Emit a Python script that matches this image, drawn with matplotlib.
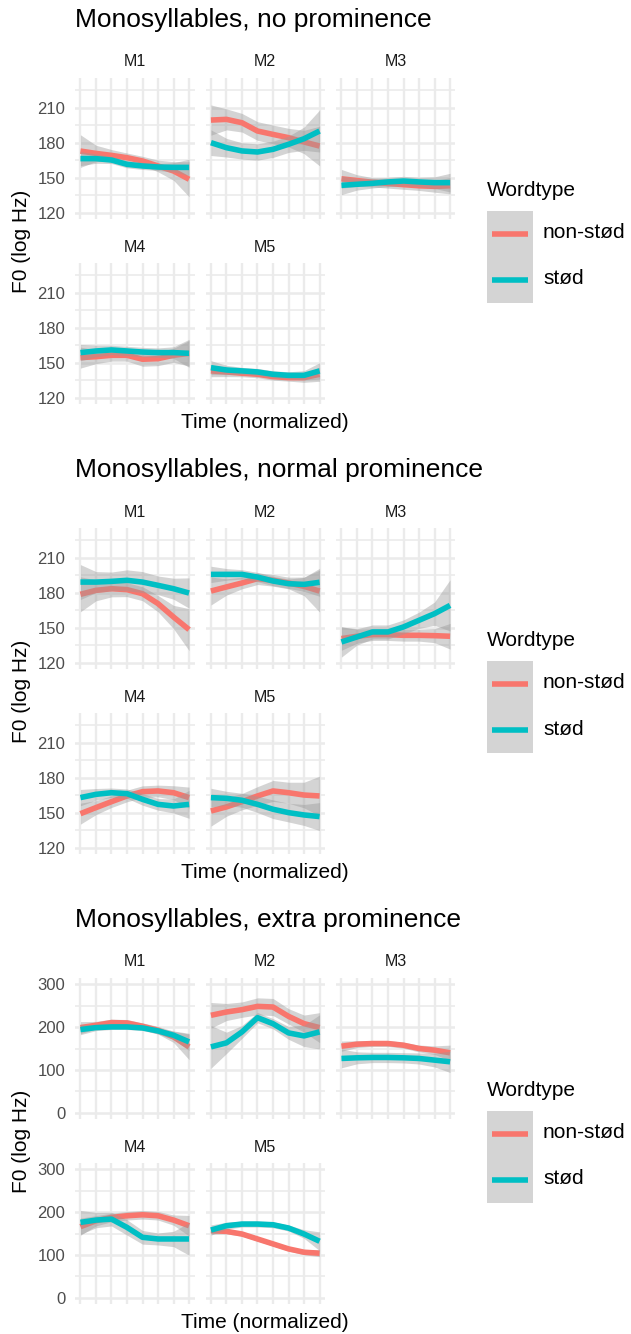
import numpy as np
import matplotlib.pyplot as plt

plt.rcParams['font.family'] = ['Liberation Sans', 'DejaVu Sans']

# =============================================================================
# DATA (smoothed F0 contours per speaker)
# =============================================================================
time = [1, 2, 3, 4, 5, 6, 7, 8]
speakers = ['M1', 'M2', 'M3', 'M4', 'M5']
wordtypes = ['non-stød', 'stød']
titles = ['Monosyllables, no prominence',
          'Monosyllables, normal prominence',
          'Monosyllables, extra prominence']

# no prominence
no_nonstod = {
    'M1': [172.8, 170.8, 169.1, 167.1, 164.3, 160.0, 155.7, 148.6],
    'M2': [199.4, 200.0, 197.1, 190.0, 187.1, 184.3, 180.6, 177.1],
    'M3': [149.0, 147.5, 146.0, 145.0, 144.0, 143.0, 142.5, 143.0],
    'M4': [154.3, 155.1, 156.3, 156.3, 152.9, 153.4, 156.3, 158.0],
    'M5': [142.9, 142.0, 140.9, 140.0, 138.0, 137.1, 137.1, 140.0],
}
no_stod = {
    'M1': [166.3, 166.3, 165.1, 161.4, 160.0, 159.1, 158.8, 158.8],
    'M2': [180.0, 175.7, 172.9, 172.0, 174.3, 178.6, 183.4, 190.0],
    'M3': [143.4, 144.3, 145.1, 146.3, 147.1, 146.3, 145.7, 145.7],
    'M4': [158.6, 160.0, 160.9, 160.0, 159.1, 158.6, 158.6, 158.0],
    'M5': [145.7, 143.7, 142.9, 142.0, 140.0, 139.1, 139.1, 142.9],
}
no_nonstod_ci = {
    'M1': [14, 7, 5, 4, 4, 5, 8, 15],
    'M2': [13, 9, 8, 8, 8, 8, 10, 17],
    'M3': [8, 5, 4, 4, 4, 4, 5, 7],
    'M4': [9, 6, 5, 5, 6, 6, 6, 11],
    'M5': [5, 4, 3, 3, 3, 3, 4, 6],
}
no_stod_ci = {
    'M1': [6, 4, 3, 3, 3, 3, 4, 7],
    'M2': [11, 8, 7, 7, 7, 7, 10, 18],
    'M3': [8, 5, 4, 4, 4, 4, 5, 8],
    'M4': [7, 5, 4, 4, 4, 4, 5, 12],
    'M5': [6, 4, 3, 3, 3, 3, 4, 7],
}

# normal prominence
normal_nonstod = {
    'M1': [178.6, 182.0, 183.4, 182.6, 179.1, 170.6, 159.1, 148.3],
    'M2': [181.4, 184.9, 188.3, 192.0, 190.6, 188.3, 185.4, 181.4],
    'M3': [140.6, 142.6, 144.0, 144.0, 143.4, 143.4, 143.1, 142.6],
    'M4': [149.1, 154.3, 159.4, 164.3, 168.0, 168.6, 167.1, 162.9],
    'M5': [151.4, 154.9, 159.4, 164.3, 168.6, 167.1, 165.1, 164.3],
}
normal_stod = {
    'M1': [189.1, 189.1, 189.7, 190.6, 189.1, 186.3, 183.4, 179.7],
    'M2': [195.7, 195.7, 195.7, 193.4, 190.0, 187.7, 187.1, 188.9],
    'M3': [137.7, 142.0, 146.3, 146.3, 150.6, 156.3, 162.0, 169.1],
    'M4': [162.9, 165.7, 167.1, 166.3, 161.4, 157.1, 155.7, 157.1],
    'M5': [162.9, 162.3, 160.6, 157.1, 152.9, 150.0, 148.0, 146.6],
}
normal_nonstod_ci = {
    'M1': [15, 9, 7, 6, 6, 7, 10, 18],
    'M2': [12, 7, 5, 5, 5, 5, 8, 18],
    'M3': [10, 6, 5, 5, 5, 5, 6, 11],
    'M4': [9, 6, 5, 5, 5, 5, 6, 9],
    'M5': [13, 8, 7, 8, 9, 9, 11, 17],
}
normal_stod_ci = {
    'M1': [15, 9, 8, 9, 9, 8, 9, 13],
    'M2': [7, 5, 4, 4, 4, 4, 6, 12],
    'M3': [13, 7, 6, 6, 6, 7, 10, 22],
    'M4': [7, 5, 4, 4, 5, 5, 6, 12],
    'M5': [8, 6, 6, 7, 8, 8, 9, 12],
}

# extra prominence
extra_nonstod = {
    'M1': [198.9, 204.4, 210.6, 209.8, 202.0, 192.7, 177.2, 153.8],
    'M2': [227.7, 235.4, 240.9, 248.6, 247.1, 225.3, 208.2, 198.9],
    'M3': [155.4, 160.1, 161.6, 161.6, 157.7, 150.0, 146.1, 139.9],
    'M4': [165.9, 179.8, 187.6, 191.5, 193.8, 191.5, 181.4, 168.2],
    'M5': [156.6, 155.0, 148.8, 137.2, 125.6, 114.0, 106.2, 103.9],
}
extra_stod = {
    'M1': [194.3, 198.9, 200.5, 200.5, 198.1, 191.1, 181.0, 165.5],
    'M2': [153.8, 163.2, 188.8, 222.2, 208.0, 186.5, 179.5, 188.8],
    'M3': [126.7, 128.2, 129.0, 129.0, 128.2, 126.7, 122.8, 118.9],
    'M4': [176.0, 181.4, 183.7, 164.3, 141.1, 137.2, 137.2, 137.2],
    'M5': [158.1, 168.2, 172.1, 172.1, 170.5, 162.8, 148.8, 131.8],
}
extra_nonstod_ci = {
    'M1': [14, 9, 8, 8, 8, 9, 13, 30],
    'M2': [30, 20, 18, 20, 20, 18, 20, 35],
    'M3': [12, 8, 7, 7, 7, 8, 10, 18],
    'M4': [20, 12, 10, 10, 10, 10, 12, 24],
    'M5': [8, 6, 5, 5, 5, 5, 6, 8],
}
extra_stod_ci = {
    'M1': [12, 7, 6, 6, 6, 7, 10, 20],
    'M2': [50, 25, 15, 12, 12, 15, 25, 40],
    'M3': [22, 14, 12, 12, 12, 13, 16, 25],
    'M4': [28, 18, 16, 18, 16, 14, 18, 38],
    'M5': [12, 8, 7, 7, 7, 7, 10, 22],
}

conditions = [
    (no_nonstod, no_stod, no_nonstod_ci, no_stod_ci),
    (normal_nonstod, normal_stod, normal_nonstod_ci, normal_stod_ci),
    (extra_nonstod, extra_stod, extra_nonstod_ci, extra_stod_ci),
]
y_major = [[120, 150, 180, 210], [120, 150, 180, 210], [0, 100, 200, 300]]
y_minor = [[135, 165, 195, 225], [135, 165, 195, 225], [50, 150, 250]]
y_lims = [(114.5, 235.5), (114.5, 235.5), (-15, 315)]

# =============================================================================
# STYLE / LAYOUT (pixels)
# =============================================================================
W, H = 631, 1334
colores = ['#F8766D', '#00BFC4']
grid_col = '#EBEBEB'
cinta = '#999999'
lw_line = 4.0

col_left = [75, 205.5, 336]
row_top = [78, 263]
pw, ph = 119.5, 141
offset = 450

fig = plt.figure(figsize=(W / 100, H / 100), dpi=100)


def px_axes(x, y, w, h):
    return fig.add_axes([x / W, 1 - (y + h) / H, w / W, h / H])


def px_text(x, y, s, **kw):
    return fig.text(x / W, 1 - y / H, s, **kw)


for k, (d_non, d_st, ci_non, ci_st) in enumerate(conditions):
    base = offset * k
    px_text(75, 20 + base, titles[k], fontsize=19, ha='left', va='center', color='black')

    for n, spk in enumerate(speakers):
        r, c = divmod(n, 3)
        ax = px_axes(col_left[c], row_top[r] + base, pw, ph)
        for s in ax.spines.values():
            s.set_visible(False)
        ax.set_xlim(0.65, 8.35)
        ax.set_ylim(*y_lims[k])
        ax.set_xticks(time)
        ax.set_xticklabels([])
        ax.set_yticks(y_major[k])
        ax.set_yticks(y_minor[k], minor=True)
        ax.grid(axis='x', which='major', color=grid_col, lw=1.7, zorder=0)
        ax.grid(axis='y', which='major', color=grid_col, lw=1.8, zorder=0)
        ax.grid(axis='y', which='minor', color=grid_col, lw=1.2, zorder=0)
        ax.tick_params(which='both', length=0)
        ax.tick_params(axis='y', labelsize=12, labelcolor='#4D4D4D', pad=7)
        if c != 0:
            ax.set_yticklabels([])
        ax.set_axisbelow(True)

        # ribbon + line per wordtype, stød drawn on top (like ggplot groups)
        z = 2
        for serie, ci, col in [(d_non, ci_non, colores[0]), (d_st, ci_st, colores[1])]:
            m = np.array(serie[spk])
            e = np.array(ci[spk])
            ax.fill_between(time, m - e, m + e, color=cinta, alpha=0.42, lw=0, zorder=z)
            ax.plot(time, m, color=col, lw=lw_line, solid_capstyle='butt',
                    solid_joinstyle='round', zorder=z + 1)
            z += 2

        px_text(col_left[c] + pw / 2, row_top[r] - 16 + base, spk, fontsize=11.5,
                ha='center', va='center', color='#1A1A1A')

    # axis titles
    px_text(22, 241 + base, 'F0 (log Hz)', fontsize=15, rotation=90,
            ha='center', va='center')
    px_text(265, 423 + base, 'Time (normalized)', fontsize=15, ha='center', va='center')

    # legend
    px_text(487, 191 + base, 'Wordtype', fontsize=15, ha='left', va='center')
    lax = px_axes(487, 211 + base, 46, 92)
    lax.set_xlim(0, 1)
    lax.set_ylim(0, 2)
    lax.axis('off')
    lax.fill_between([0, 1], 0, 2, color=cinta, alpha=0.42, lw=0)
    for i, (lab, col) in enumerate(zip(wordtypes, colores)):
        yk = 1.5 - i
        lax.plot([0.1, 0.9], [yk, yk], color=col, lw=lw_line, solid_capstyle='butt')
        px_text(543, 233 + 46 * i + base, lab, fontsize=15, ha='left', va='center')

fig.savefig('out.png', dpi=100)
